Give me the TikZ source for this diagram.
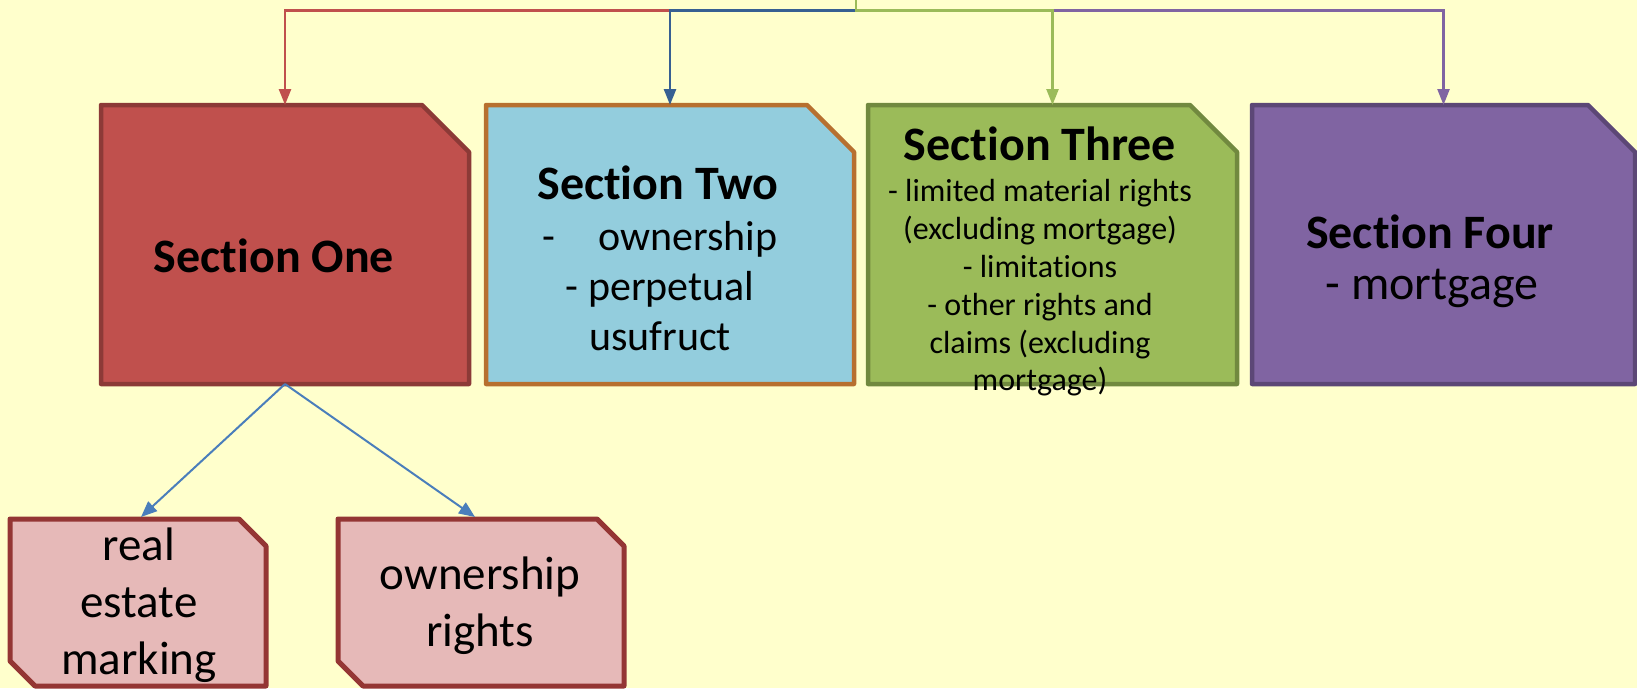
\documentclass[tikz,border=0pt]{standalone}
\usepackage{fontspec}
\setmainfont{Carlito}[Ligatures={NoCommon,NoRare,NoContextual}]
\usetikzlibrary{arrows.meta,calc}
\newcommand\nti{t\kern0pt i}
\definecolor{bgc}{HTML}{FFFFCC}
\definecolor{sonef}{HTML}{C0504D}
\definecolor{soned}{HTML}{8C3A37}
\definecolor{stwof}{HTML}{93CDDD}
\definecolor{stwod}{HTML}{B7702F}
\definecolor{sthreef}{HTML}{9BBB59}
\definecolor{sthreed}{HTML}{71893F}
\definecolor{sfourf}{HTML}{8064A2}
\definecolor{sfourd}{HTML}{5C4776}
\definecolor{subf}{HTML}{E6B9B8}
\definecolor{subd}{HTML}{943634}
\definecolor{cred}{HTML}{C0504D}
\definecolor{cblue}{HTML}{376092}
\definecolor{cgreen}{HTML}{9BBB59}
\definecolor{cpurple}{HTML}{8064A2}
\definecolor{csub}{HTML}{4A7EBB}
\newcommand\cutTR[4]{%
  \filldraw[fill=#2,draw=#3,line width=4.5pt,line join=round]
    (#1.south west) -- (#1.north west) -- ($(#1.north east)+(-#4,0)$)
    -- ($(#1.north east)+(0,#4)$) -- (#1.south east) -- cycle;}
\newcommand\cutTwo[3]{%
  \filldraw[fill=#2,draw=#3,line width=5pt,line join=round]
    (#1.north west) -- ($(#1.north east)+(-27,0)$) -- ($(#1.north east)+(0,27)$)
    -- (#1.south east) -- ($(#1.south west)+(25,0)$) -- ($(#1.south west)+(0,-25)$) -- cycle;}
\begin{document}
\begin{tikzpicture}[x=1pt,y=-1pt,
  frame/.style={inner sep=0pt,outer sep=0pt,draw=none},
  head/.style={inner sep=0pt,font=\fontsize{48}{56}\selectfont\bfseries},
  conn/.style={line width=2.5pt,-{Triangle[length=16pt,width=12pt]}},
  subconn/.style={line width=2pt,csub,-{Triangle[length=16pt,width=13pt]}}]
\fill[bgc] (0,0) rectangle (1637,688);
\useasboundingbox (0,0) rectangle (1637,688);
% frames
\node[frame,minimum width=368pt,minimum height=279pt] (s1) at (285,244.5) {};
\node[frame,minimum width=368pt,minimum height=279pt] (s2) at (670,244.5) {};
\node[frame,minimum width=369pt,minimum height=279pt] (s3) at (1052.5,244.5) {};
\node[frame,minimum width=383pt,minimum height=279pt] (s4) at (1443.5,244.5) {};
\node[frame,minimum width=256pt,minimum height=167pt] (a) at (138,602.5) {};
\node[frame,minimum width=286pt,minimum height=167pt] (b) at (481,602.5) {};
\cutTR{s1}{sonef}{soned}{47}
\cutTR{s2}{stwof}{stwod}{47}
\cutTR{s3}{sthreef}{sthreed}{47}
\cutTR{s4}{sfourf}{sfourd}{47}
\cutTwo{a}{subf}{subd}
\cutTwo{b}{subf}{subd}
% texts
\node[head] (t1) at (274,256) {Sec\nti on One};
\node[head] (t2) at (658,183) {Sec\nti on Two};
\node[inner sep=0pt,align=center,font=\fontsize{42}{50}\selectfont] (t2b) at (660,286)
  {\makebox[235pt]{-\hfill ownership}\\- perpetual\\usufruct};
\node[head] (t3) at (1040,144) {Sec\nti on Three};
\node[inner sep=0pt,align=center,font=\fontsize{32}{37.8}\selectfont] (t3b) at (1040,288)
  {- limited material rights\\(excluding mortgage)\\- limita\nti ons\\- other rights and\\claims (excluding\\mortgage)};
\node[head] (t4) at (1430,232) {Sec\nti on Four};
\node[inner sep=0pt,font=\fontsize{48}{56}\selectfont] (t4b) at (1432,288) {- mortgage};
\node[inner sep=0pt,align=center,font=\fontsize{47}{57}\selectfont] (ta) at (139,605)
  {real\\estate\\marking};
\node[inner sep=0pt,align=center,font=\fontsize{47}{57}\selectfont] (tb) at (480,606)
  {ownership\\rights};
% connectors
\coordinate (root) at (856,0);
\draw[conn,cred] (root) -- ++(0,10.5) -| (s1.north);
\draw[conn,cblue] (root) -- ++(0,10.5) -| (s2.north);
\draw[conn,cpurple] (root) -- ++(0,10.5) -| (s4.north);
\draw[conn,cgreen] (root) -- ++(0,10.5) -| (s3.north);
\draw[subconn] (s1.south) -- ($(a.north)+(3,-2)$);
\draw[subconn] (s1.south) -- ($(b.north)+(-6,-2)$);
\end{tikzpicture}
\end{document}
